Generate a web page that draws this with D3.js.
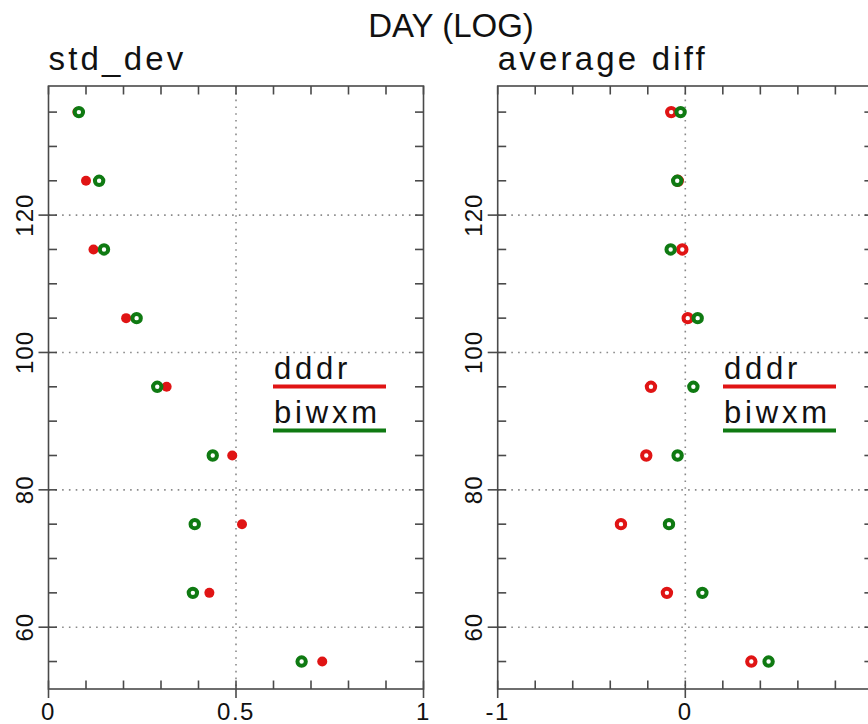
<!DOCTYPE html>
<html>
<head>
<meta charset="utf-8">
<script src="https://cdn.jsdelivr.net/npm/d3@7"></script>
<style>
  html, body { margin: 0; padding: 0; background: #fff; }
  svg { display: block; }
  text { font-family: "Liberation Sans", Arial, Helvetica, sans-serif; fill: #111; }
</style>
</head>
<body>
<script>
// Day of observation (y position for each row)
const days = [55, 65, 75, 85, 95, 105, 115, 125, 135];

// Standard deviation per day
const stdDddr  = [0.730, 0.429, 0.516, 0.490, 0.315, 0.207, 0.120, 0.100, 0.077];
const stdBiwxm = [0.675, 0.385, 0.390, 0.438, 0.290, 0.235, 0.148, 0.135, 0.081];

// Average difference per day
const avgDddr  = [0.352, -0.098, -0.343, -0.208, -0.183, 0.013, -0.016, -0.040, -0.075];
const avgBiwxm = [0.444, 0.091, -0.087, -0.041, 0.043, 0.066, -0.078, -0.043, -0.025];

const seriesNames = ["dddr", "biwxm"];
const seriesColors = ["#e01414", "#0f7a12"];

const yTickLabels = [60, 80, 100, 120];
const stdTickLabels = [0, 0.5, 1];
const avgTickLabels = [-1, 0];   // the +1 label falls past the page edge

const W = 868, H = 724;
const plotTop = 86, plotBottom = 689;

const svg = d3.select("body").append("svg")
  .attr("width", W).attr("height", H);

const y = d3.scaleLinear().domain([51, 138.8]).range([plotBottom, plotTop]);

svg.append("text")
  .attr("x", 451).attr("y", 37)
  .attr("text-anchor", "middle")
  .style("font-size", "33px")
  .text("DAY (LOG)");

const panels = [
  { title: "std_dev", x0: 48.5, x1: 423.5, domain: [0, 1], step: 0.1,
    majors: stdTickLabels, vgrid: [0.5], series: [stdDddr, stdBiwxm],
    redFilled: true, legendX: 273 },
  { title: "average diff", x0: 497.7, x1: 872.9, domain: [-1, 1], step: 0.2,
    majors: avgTickLabels, vgrid: [0], series: [avgDddr, avgBiwxm],
    redFilled: false, legendX: 723 }
];

const frameColor = "#4a4a4a";
const gridColor = "#8a8a8a";

panels.forEach(p => {
  const x = d3.scaleLinear().domain(p.domain).range([p.x0, p.x1]);
  const g = svg.append("g");

  // subtitle
  g.append("text")
    .attr("x", p.x0).attr("y", 70)
    .style("font-size", "33px")
    .style("letter-spacing", "3.2px")
    .text(p.title);

  // dotted grid
  g.selectAll(".hgrid").data(yTickLabels).join("line")
    .attr("x1", p.x0).attr("x2", p.x1)
    .attr("y1", d => y(d)).attr("y2", d => y(d))
    .attr("stroke", gridColor).attr("stroke-width", 1.6)
    .attr("stroke-dasharray", "1.6,5.2");
  g.selectAll(".vgrid").data(p.vgrid).join("line")
    .attr("x1", d => x(d)).attr("x2", d => x(d))
    .attr("y1", plotTop).attr("y2", plotBottom)
    .attr("stroke", gridColor).attr("stroke-width", 1.6)
    .attr("stroke-dasharray", "1.6,5.2");

  // frame
  g.append("rect")
    .attr("x", p.x0).attr("y", plotTop)
    .attr("width", p.x1 - p.x0).attr("height", plotBottom - plotTop)
    .attr("fill", "none").attr("stroke", frameColor).attr("stroke-width", 1.6);

  // x ticks (inside, top and bottom)
  const nx = Math.round((p.domain[1] - p.domain[0]) / p.step);
  const xTicks = d3.range(nx + 1).map(i => p.domain[0] + i * p.step);
  const tl = 8.5;
  g.selectAll(".xtb").data(xTicks).join("line")
    .attr("x1", d => x(d)).attr("x2", d => x(d))
    .attr("y1", plotBottom).attr("y2", plotBottom - tl)
    .attr("stroke", frameColor).attr("stroke-width", 1.6);
  g.selectAll(".xtt").data(xTicks).join("line")
    .attr("x1", d => x(d)).attr("x2", d => x(d))
    .attr("y1", plotTop).attr("y2", plotTop + tl)
    .attr("stroke", frameColor).attr("stroke-width", 1.6);
  // major x ticks extend outward
  g.selectAll(".xtm").data(p.majors).join("line")
    .attr("x1", d => x(d)).attr("x2", d => x(d))
    .attr("y1", plotBottom).attr("y2", plotBottom + 9)
    .attr("stroke", frameColor).attr("stroke-width", 1.6);
  g.selectAll(".xlab").data(p.majors).join("text")
    .attr("x", d => x(d)).attr("y", 720)
    .attr("text-anchor", "middle")
    .style("font-size", "24px")
    .style("letter-spacing", "1.5px")
    .text(d => String(d));

  // y ticks (inside, left and right)
  const yTicks = d3.range(55, 138, 5);
  g.selectAll(".ytl").data(yTicks).join("line")
    .attr("x1", p.x0).attr("x2", p.x0 + tl)
    .attr("y1", d => y(d)).attr("y2", d => y(d))
    .attr("stroke", frameColor).attr("stroke-width", 1.6);
  g.selectAll(".ytr").data(yTicks).join("line")
    .attr("x1", p.x1).attr("x2", p.x1 - tl)
    .attr("y1", d => y(d)).attr("y2", d => y(d))
    .attr("stroke", frameColor).attr("stroke-width", 1.6);
  g.selectAll(".ytm").data(yTickLabels).join("line")
    .attr("x1", p.x0 - 10).attr("x2", p.x0)
    .attr("y1", d => y(d)).attr("y2", d => y(d))
    .attr("stroke", frameColor).attr("stroke-width", 1.6);
  g.selectAll(".ylab").data(yTickLabels).join("text")
    .attr("transform", d => `translate(${p.x0 - 16},${y(d)}) rotate(-90)`)
    .attr("text-anchor", "middle")
    .style("font-size", "24px")
    .style("letter-spacing", "1px")
    .text(d => d);

  // markers: dddr first, biwxm on top
  p.series.forEach((vals, si) => {
    const col = seriesColors[si];
    const filled = si === 0 && p.redFilled;
    g.selectAll(".m" + si).data(days).join("circle")
      .attr("cx", (d, i) => x(vals[i]))
      .attr("cy", d => y(d))
      .attr("r", filled ? 5 : 4.2)
      .attr("fill", filled ? col : "#fff")
      .attr("stroke", col)
      .attr("stroke-width", filled ? 0 : 4);
  });

  // legend
  seriesNames.forEach((name, si) => {
    const by = 379 + si * 44;
    g.append("text")
      .attr("x", p.legendX + 1).attr("y", by)
      .style("font-size", "31px")
      .style("letter-spacing", "3.8px")
      .text(name);
    g.append("line")
      .attr("x1", p.legendX).attr("x2", p.legendX + 113)
      .attr("y1", by + 7.5).attr("y2", by + 7.5)
      .attr("stroke", seriesColors[si]).attr("stroke-width", 4);
  });
});
</script>
</body>
</html>
